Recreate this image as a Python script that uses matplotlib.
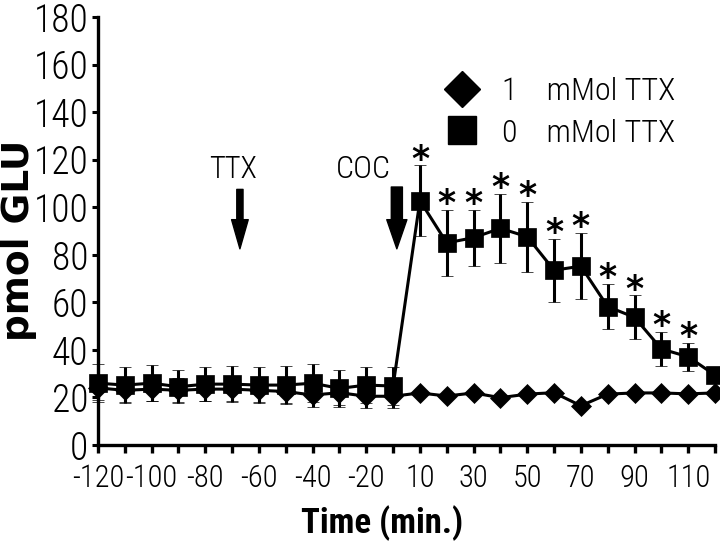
import numpy as np
import matplotlib
matplotlib.use('Agg')
import matplotlib.pyplot as plt
from matplotlib.lines import Line2D

COND = ['Roboto Condensed', 'DejaVu Sans']
plt.rcParams['font.family'] = COND
plt.rcParams['font.weight'] = 'light'

# time points (min), categorical spacing on the axis
tiempos = [-120, -110, -100, -90, -80, -70, -60, -50, -40, -30, -20, -10,
           10, 20, 30, 40, 50, 60, 70, 80, 90, 100, 110, 120]

# 1 mMol TTX (diamonds)
ttx1 = [24, 23, 23.5, 23, 23.5, 23.5, 23, 22.5, 21, 22, 20.5, 20.5,
        21.9, 20.6, 21.9, 19.9, 21.4, 22.0, 16.5, 21.4, 21.9, 21.9, 21.5, 21.9]
ttx1_err = [5, 5, 5, 5, 5, 5, 5, 5, 5, 5, 5, 5,
            1, 1, 1, 1, 1, 1, 1, 1, 1, 1, 1, 1]

# 0 mMol TTX (squares)
ttx0 = [26, 25.2, 26, 24.5, 25.6, 25.6, 25.2, 25.2, 26, 23.8, 25.2, 24.8,
        102.8, 85, 87.2, 91.1, 87.6, 73.5, 75.2, 58.2, 53.7, 40.4, 37.1, 29.4]
ttx0_err = [8, 7.7, 7.6, 7, 7.3, 7.5, 7.5, 8, 8, 7.7, 7.5, 8,
            14.8, 14, 11.8, 14.4, 14.7, 13.2, 13.9, 9.5, 9.2, 7.2, 6, 2]

# points marked significant
signif = [10, 20, 30, 40, 50, 60, 70, 80, 90, 100, 110]

yticks = [0, 20, 40, 60, 80, 100, 120, 140, 160, 180]

x = np.arange(len(tiempos))

fig = plt.figure(figsize=(7.2, 5.52), dpi=100)
ax = fig.add_axes([98 / 720, 107 / 552, 617 / 720, 428 / 552])

ax.errorbar(x, ttx1, yerr=ttx1_err, color='black', marker='D', ms=9.8,
            mew=0.5, lw=2.2, elinewidth=2.2, capsize=4, capthick=2.2,
            clip_on=False, zorder=3)
ax.errorbar(x, ttx0, yerr=ttx0_err, color='black', marker='s', ms=13,
            mew=0.5, lw=2.2, elinewidth=2.2, capsize=4, capthick=2.2,
            clip_on=False, zorder=4)

# asterisks above the error bars
for t in signif:
    i = tiempos.index(t)
    ax.annotate('*', xy=(i, ttx0[i] + ttx0_err[i]), xytext=(0, -3),
                textcoords='offset points', ha='center', va='baseline',
                fontsize=25, family='DejaVu Sans', fontweight='bold')

# treatment arrows
ax.annotate('', xy=(5.29, 82.5), xytext=(5.29, 107.5),
            arrowprops=dict(facecolor='black', edgecolor='black', width=4.5,
                            headwidth=12, headlength=21, shrink=0))
ax.text(5.03, 116, 'TTX', ha='center', va='center', fontsize=22)
ax.annotate('', xy=(11.14, 82.5), xytext=(11.14, 108.5),
            arrowprops=dict(facecolor='black', edgecolor='black', width=8,
                            headwidth=14.5, headlength=21, shrink=0))
ax.text(9.88, 116, 'COC', ha='center', va='center', fontsize=23)

ax.set_xlim(0, len(tiempos) - 1)
ax.set_ylim(0, 180)
ax.set_yticks(yticks)
ax.set_xticks(x)
ax.set_xticklabels([str(t) if k % 2 == 0 else '' for k, t in enumerate(tiempos)])

for s in ['top', 'right']:
    ax.spines[s].set_visible(False)
for s in ['left', 'bottom']:
    ax.spines[s].set_linewidth(2.4)

ax.tick_params(axis='y', direction='out', length=4, width=2.2, labelsize=27, pad=3)
ax.tick_params(axis='x', direction='out', length=6, width=2.4, labelsize=22, pad=8)

ax.set_xlabel('Time (min.)', fontsize=25, fontweight='bold')
ax.xaxis.set_label_coords((382 - 98) / 617, -0.14)
ax.set_ylabel('pmol GLU', fontsize=27, fontweight='bold', family='DejaVu Sans')
ax.yaxis.set_label_coords(-0.099, 0.478)

handles = [Line2D([], [], marker='D', ms=18.5, color='black', ls='none'),
           Line2D([], [], marker='s', ms=19.5, color='black', ls='none')]
ax.legend(handles, ['1    mMol TTX', '0    mMol TTX'], loc='center left',
          bbox_to_anchor=(0.535, 0.777), frameon=False, fontsize=23,
          handlelength=1.3, handletextpad=0.6, labelspacing=0.38,
          borderaxespad=0)

fig.savefig('out.png', dpi=100)
